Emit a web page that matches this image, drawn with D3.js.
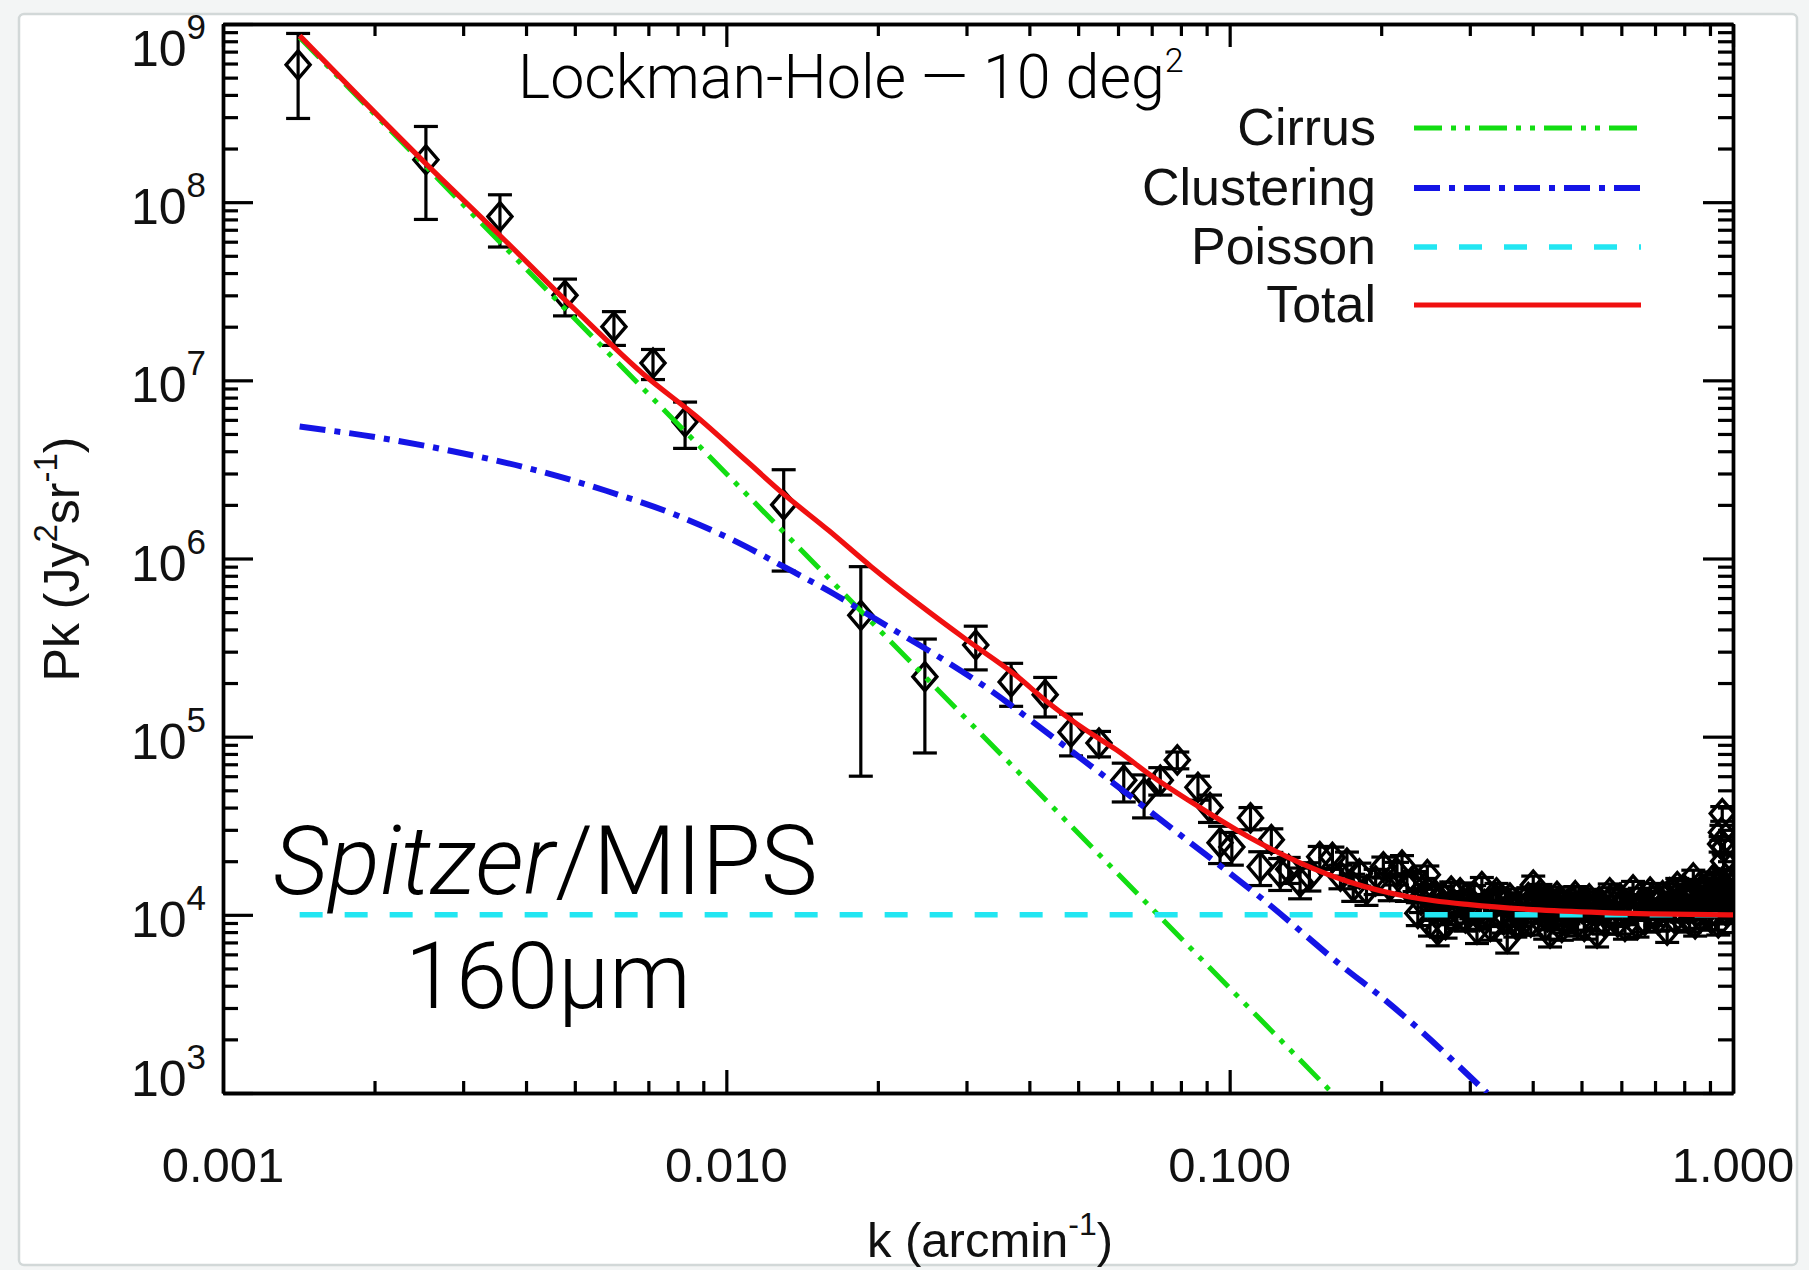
<!DOCTYPE html>
<html>
<head>
<meta charset="utf-8">
<script src="https://cdn.jsdelivr.net/npm/d3@7"></script>
<style>
  html, body { margin: 0; padding: 0; background: #f3f5f5; }
  svg { display: block; }
</style>
</head>
<body>
<svg id="chart" width="1809" height="1270"></svg>
<script>
// ---------------- measured power spectrum (k in arcmin^-1, Pk in Jy^2/sr) ----------------
const kData = [
  0.00141, 0.00253, 0.00355, 0.00478, 0.00598, 0.00715, 0.00828, 0.0130, 0.0185, 0.0248,
  0.0313, 0.0368, 0.0430, 0.0484, 0.0550, 0.0616, 0.0676, 0.0728, 0.0787, 0.0865,
  0.0914, 0.0957, 0.101, 0.110, 0.115, 0.121, 0.126, 0.138, 0.151, 0.160,
  0.171, 0.176, 0.187, 0.202, 0.215, 0.225,
  0.131, 0.144, 0.166, 0.181, 0.195, 0.208, 0.220,
  0.233, 0.240, 0.247, 0.253, 0.259, 0.265, 0.272, 0.279, 0.287, 0.294,
  0.302, 0.310, 0.317, 0.325, 0.334, 0.344, 0.350, 0.356, 0.365, 0.374,
  0.383, 0.392, 0.401, 0.410, 0.419, 0.428, 0.433, 0.442, 0.452, 0.462,
  0.471, 0.481, 0.491, 0.501, 0.512, 0.524, 0.537, 0.548, 0.560, 0.578,
  0.590, 0.603, 0.617, 0.633, 0.646, 0.660, 0.676, 0.693, 0.710, 0.725,
  0.740, 0.757, 0.775, 0.790, 0.805, 0.820, 0.834, 0.848, 0.861, 0.875,
  0.890, 0.900, 0.912, 0.925, 0.935, 0.945, 0.952, 0.958, 0.965, 0.972,
  0.980, 0.988, 0.995,
  0.2365, 0.2435, 0.250, 0.256, 0.262, 0.2685, 0.2755, 0.283, 0.2905, 0.298,
  0.306, 0.3135, 0.321, 0.3295, 0.339, 0.347, 0.353, 0.3605, 0.3695, 0.3785,
  0.3875, 0.3965, 0.4055, 0.4145, 0.4235, 0.4305, 0.4375, 0.447, 0.457, 0.4665,
  0.476, 0.486, 0.496, 0.5065, 0.518, 0.5305, 0.5425, 0.554, 0.569, 0.584,
  0.5965, 0.610, 0.625, 0.6395, 0.653, 0.668, 0.6845, 0.7015, 0.7175, 0.7325,
  0.7485, 0.766, 0.7825, 0.7975, 0.8125, 0.827, 0.841, 0.8545, 0.868, 0.8825,
  0.895, 0.906, 0.9185, 0.930, 0.940, 0.9485, 0.955, 0.9615, 0.9685, 0.976,
  0.984, 0.9915, 0.998
];
const pkData = [
  5.9e8, 1.73e8, 8.3e7, 3.0e7, 2.0e7, 1.25e7, 5.85e6, 2.0e6, 4.8e5, 2.17e5,
  3.27e5, 2.03e5, 1.72e5, 1.06e5, 9.2e4, 5.7e4, 4.8e4, 5.7e4, 7.4e4, 5.2e4,
  4.0e4, 2.54e4, 2.4e4, 3.5e4, 1.86e4, 2.64e4, 1.72e4, 1.53e4, 2.12e4, 2.1e4,
  1.95e4, 1.44e4, 1.38e4, 1.86e4, 1.72e4, 1.44e4,
  1.80e4, 1.66e4, 1.65e4, 1.70e4, 1.55e4, 1.45e4, 1.90e4,
  1.55e4, 1.21e4, 1.68e4, 1.10e4, 8.2e3, 1.26e4, 1.05e4, 1.15e4, 1.33e4, 9.6e3,
  1.12e4, 8.3e3, 1.44e4, 1.02e4, 1.18e4, 1.21e4, 9.4e3, 7.4e3, 1.08e4, 1.13e4,
  9.2e3, 1.25e4, 1.47e4, 1.06e4, 1.16e4, 9.75e3, 7.9e3, 1.10e4, 1.20e4, 9.3e3,
  1.04e4, 1.17e4, 9.0e3, 1.09e4, 1.14e4, 9.5e3, 7.9e3, 1.12e4, 1.05e4, 1.26e4,
  9.1e3, 1.18e4, 1.02e4, 1.38e4, 8.8e3, 1.15e4, 1.08e4, 1.21e4, 9.4e3, 1.28e4,
  8.2e3, 1.16e4, 1.44e4, 1.05e4, 1.31e4, 9.3e3, 1.61e4, 1.12e4, 9.7e3, 1.36e4,
  1.19e4, 1.45e4, 1.57e4, 1.03e4, 9.0e3, 2.5e4, 3.7e4, 2.0e4, 1.6e4, 1.40e4,
  1.22e4, 1.3e4, 1.1e4,
  1.02e4, 1.42e4, 9.0e3, 1.30e4, 1.12e4, 8.8e3, 1.36e4, 9.9e3, 1.19e4, 1.05e4,
  1.29e4, 9.8e3, 1.14e4, 8.6e3, 1.33e4, 1.03e4, 1.17e4, 1.24e4, 8.9e3, 1.01e4,
  1.11e4, 9.1e3, 1.23e4, 1.31e4, 8.7e3, 1.21e4, 1.02e4, 1.27e4, 8.5e3, 1.13e4,
  9.6e3, 1.28e4, 1.15e4, 8.6e3, 1.23e4, 1.07e4, 1.19e4, 9.2e3, 1.33e4, 1.00e4,
  1.24e4, 8.6e3, 1.14e4, 1.07e4, 1.26e4, 9.3e3, 1.34e4, 1.01e4, 1.19e4, 1.09e4,
  1.33e4, 9.5e3, 1.22e4, 1.40e4, 1.08e4, 1.26e4, 8.9e3, 1.42e4, 1.17e4, 1.03e4,
  1.29e4, 9.5e3, 1.38e4, 1.21e4, 1.50e4, 2.9e4, 1.2e4, 2.4e4, 1.05e4, 1.51e4,
  1.16e4, 1.42e4, 1.25e4
];
const pkErr = [
  2.95e8, 9.3e7, 2.7e7, 7.0e6, 4.3e6, 2.4e6, 1.7e6, 1.15e6, 4.2e5, 1.36e5,
  9.0e4, 5.5e4, 4.3e4, 2.8e4, 1.5e4, 1.4e4, 1.3e4, 1.0e4, 8e3, 8e3,
  7e3, 6e3, 5e3, 5e3, 4e3, 4e3, 3.5e3, 3e3, 3e3, 3e3,
  3e3, 2.5e3, 2.5e3, 2.5e3, 2.5e3, 2.5e3,
  3e3, 3e3, 2.5e3, 2.5e3, 2.5e3, 2.5e3, 2.5e3,
  2.0e3, 1.8e3, 2.0e3, 1.7e3, 1.5e3, 1.8e3, 1.7e3, 1.7e3, 1.8e3, 1.5e3,
  1.7e3, 1.4e3, 1.8e3, 1.6e3, 1.7e3, 1.7e3, 1.5e3, 1.3e3, 1.6e3, 1.6e3,
  1.5e3, 1.7e3, 1.8e3, 1.5e3, 1.6e3, 1.5e3, 1.3e3, 1.5e3, 1.6e3, 1.4e3,
  1.5e3, 1.6e3, 1.4e3, 1.5e3, 1.5e3, 1.4e3, 1.3e3, 1.5e3, 1.5e3, 1.6e3,
  1.3e3, 1.5e3, 1.4e3, 1.6e3, 1.3e3, 1.5e3, 1.4e3, 1.5e3, 1.3e3, 1.5e3,
  1.2e3, 1.5e3, 1.6e3, 1.4e3, 1.5e3, 1.3e3, 1.7e3, 1.4e3, 1.3e3, 1.6e3,
  1.5e3, 1.6e3, 1.7e3, 1.4e3, 1.3e3, 2.5e3, 3.5e3, 2.0e3, 1.7e3, 1.6e3,
  1.5e3, 1.5e3, 1.4e3,
  1.5e3, 1.8e3, 1.4e3, 1.7e3, 1.6e3, 1.4e3, 1.7e3, 1.5e3, 1.6e3, 1.5e3,
  1.7e3, 1.5e3, 1.6e3, 1.4e3, 1.7e3, 1.5e3, 1.6e3, 1.6e3, 1.4e3, 1.5e3,
  1.5e3, 1.4e3, 1.6e3, 1.7e3, 1.4e3, 1.6e3, 1.5e3, 1.6e3, 1.3e3, 1.5e3,
  1.4e3, 1.6e3, 1.5e3, 1.3e3, 1.6e3, 1.5e3, 1.5e3, 1.4e3, 1.6e3, 1.4e3,
  1.5e3, 1.3e3, 1.5e3, 1.4e3, 1.5e3, 1.3e3, 1.6e3, 1.4e3, 1.5e3, 1.4e3,
  1.6e3, 1.3e3, 1.5e3, 1.6e3, 1.4e3, 1.5e3, 1.3e3, 1.6e3, 1.5e3, 1.4e3,
  1.5e3, 1.3e3, 1.6e3, 1.5e3, 1.7e3, 2.8e3, 1.5e3, 2.4e3, 1.4e3, 1.7e3,
  1.5e3, 1.6e3, 1.5e3
];

// ---------------- model components ----------------
const cirrusK = [0.00142, 0.160];
const cirrusP = [8.4e8, 1.0e3];

const clusteringK = [0.00142, 0.00201, 0.00286, 0.00406, 0.00577, 0.00817, 0.0103, 0.0130,
  0.0164, 0.0208, 0.0262, 0.0331, 0.0440, 0.0807, 0.1186, 0.168, 0.2017, 0.3247];
const clusteringP = [5.5e6, 4.8e6, 4.0e6, 3.2e6, 2.4e6, 1.7e6, 1.27e6, 9.0e5,
  6.3e5, 4.2e5, 2.85e5, 1.86e5, 1.02e5, 2.74e4, 1.17e4, 5.1e3, 3.4e3, 1.0e3];

const poissonK = [0.00142, 1.0];
const poissonP = [1.0e4, 1.0e4];

const totalK = [0.00142, 0.0025, 0.00355, 0.005, 0.00693, 0.0087, 0.011, 0.013, 0.016, 0.0194,
  0.024, 0.030, 0.0373, 0.044, 0.052, 0.0597, 0.0695, 0.0873, 0.110, 0.138,
  0.173, 0.228, 0.30, 0.40, 0.55, 0.75, 1.0];
const totalP = [8.6e8, 1.7e8, 6.5e7, 2.5e7, 1.05e7, 6.3e6, 3.5e6, 2.3e6, 1.43e6, 9.0e5,
  5.6e5, 3.5e5, 2.25e5, 1.52e5, 1.08e5, 8.4e4, 6.1e4, 4.0e4, 2.7e4, 1.96e4,
  1.53e4, 1.26e4, 1.14e4, 1.07e4, 1.03e4, 1.01e4, 1.0e4];

// ---------------- axes ----------------
const xMajorTicks = [0.001, 0.01, 0.1, 1];
const xTickLabels = ["0.001", "0.010", "0.100", "1.000"];
const yExponents = [3, 4, 5, 6, 7, 8, 9];

const legendNames = ["Cirrus", "Clustering", "Poisson", "Total"];

// ---------------- layout ----------------
const plot = { left: 223, right: 1733, top: 24, bottom: 1093 };

const x = d3.scaleLog().domain([0.001, 1]).range([plot.left, plot.right]);
const y = d3.scaleLog().domain([1e3, 1e9]).range([plot.bottom, plot.top]);

const svg = d3.select("#chart");

// card background
svg.append("rect")
  .attr("x", 19).attr("y", 14).attr("width", 1778).attr("height", 1251)
  .attr("rx", 5)
  .attr("fill", "#ffffff")
  .attr("stroke", "#d2d8d8").attr("stroke-width", 2.5);

const helv = "'Liberation Sans', Arial, Helvetica, sans-serif";
const light = "Roboto, 'Open Sans', sans-serif";

// clip for curves and points
svg.append("defs").append("clipPath").attr("id", "plotClip")
  .append("rect")
  .attr("x", plot.left).attr("y", plot.top)
  .attr("width", plot.right - plot.left).attr("height", plot.bottom - plot.top);

// minor tick values for a log axis
function minorTicks(lo, hi) {
  const out = [];
  for (let e = lo; e < hi; e++) {
    for (let m = 2; m <= 9; m++) out.push(m * Math.pow(10, e));
  }
  return out;
}
const xMinor = minorTicks(-3, 0);
const yMinor = minorTicks(3, 9);
const yMajor = yExponents.map(e => Math.pow(10, e));

const axesG = svg.append("g").attr("class", "axes");

function styleAxis(g) {
  g.selectAll("path.domain").attr("stroke", "#000").attr("stroke-width", 3.4);
  g.selectAll(".tick line").attr("stroke", "#000").attr("stroke-width", 3.2);
  g.selectAll(".tick text").remove();
}

function addAxis(gen, tx, ty, values, len) {
  axesG.append("g").attr("transform", `translate(${tx},${ty})`)
    .call(gen.tickValues(values).tickSizeInner(-len).tickSizeOuter(0))
    .call(styleAxis);
}
addAxis(d3.axisBottom(x), 0, plot.bottom, xMinor, 12);
addAxis(d3.axisBottom(x), 0, plot.bottom, xMajorTicks, 23);
addAxis(d3.axisTop(x), 0, plot.top, xMinor, 12);
addAxis(d3.axisTop(x), 0, plot.top, xMajorTicks, 23);
addAxis(d3.axisLeft(y), plot.left, 0, yMinor, 15);
addAxis(d3.axisLeft(y), plot.left, 0, yMajor, 30);
addAxis(d3.axisRight(y), plot.right, 0, yMinor, 15);
addAxis(d3.axisRight(y), plot.right, 0, yMajor, 30);

// x tick labels
svg.append("g").selectAll("text")
  .data(xMajorTicks)
  .join("text")
  .attr("x", d => x(d))
  .attr("y", 1182)
  .attr("text-anchor", "middle")
  .attr("font-family", helv)
  .attr("font-size", 49)
  .attr("fill", "#111")
  .text((d, i) => xTickLabels[i]);

// y tick labels 10^n
const yLab = svg.append("g").selectAll("text")
  .data(yExponents)
  .join("text")
  .attr("x", 206)
  .attr("y", e => {
    const ty = y(Math.pow(10, e));
    if (e === 9) return ty + 42;
    if (e === 3) return ty + 3;
    return ty + 22;
  })
  .attr("text-anchor", "end")
  .attr("font-family", helv)
  .attr("font-size", 50)
  .attr("fill", "#111");
yLab.append("tspan").text("10");
yLab.append("tspan")
  .attr("font-size", 35)
  .attr("dy", -27)
  .text(e => e);

// axis titles
const yTitle = svg.append("text")
  .attr("transform", "translate(79,559) rotate(-90)")
  .attr("text-anchor", "middle")
  .attr("font-family", helv)
  .attr("font-size", 50)
  .attr("fill", "#111");
yTitle.append("tspan").text("Pk (Jy");
yTitle.append("tspan").attr("font-size", 33).attr("dy", -22).text("2");
yTitle.append("tspan").attr("dy", 22).text("sr");
yTitle.append("tspan").attr("font-size", 33).attr("dy", -22).text("-1");
yTitle.append("tspan").attr("dy", 22).text(")");

const xTitle = svg.append("text")
  .attr("x", 990)
  .attr("y", 1257)
  .attr("text-anchor", "middle")
  .attr("font-family", helv)
  .attr("font-size", 49)
  .attr("fill", "#111");
xTitle.append("tspan").text("k (arcmin");
xTitle.append("tspan").attr("font-size", 32).attr("dy", -22).text("-1");
xTitle.append("tspan").attr("dy", 22).text(")");

// ---------------- data points ----------------
const pts = kData.map((k, i) => ({ k, p: pkData[i], e: pkErr[i] }));
const ptsG = svg.append("g").attr("clip-path", "url(#plotClip)");

const errG = ptsG.append("g").attr("stroke", "#000").attr("stroke-width", 3.2).attr("fill", "none");
errG.selectAll("g.eb")
  .data(pts)
  .join("g")
  .attr("class", "eb")
  .each(function (d) {
    const g = d3.select(this);
    const cx = x(d.k);
    const lo = Math.max(d.p - d.e, 1);
    const yTop = y(d.p + d.e);
    const yBot = y(lo);
    g.append("line").attr("x1", cx).attr("x2", cx).attr("y1", yTop).attr("y2", yBot);
    g.append("line").attr("x1", cx - 12).attr("x2", cx + 12).attr("y1", yTop).attr("y2", yTop);
    g.append("line").attr("x1", cx - 12).attr("x2", cx + 12).attr("y1", yBot).attr("y2", yBot);
  });

ptsG.append("g").selectAll("path")
  .data(pts)
  .join("path")
  .attr("d", "M0,-14L12,0L0,14L-12,0Z")
  .attr("transform", d => `translate(${x(d.k)},${y(d.p)})`)
  .attr("fill", "none")
  .attr("stroke", "#000")
  .attr("stroke-width", 3.4);

// ---------------- model curves ----------------
const lineGen = d3.line()
  .x(d => x(d[0]))
  .y(d => y(d[1]))
  .curve(d3.curveMonotoneX);

const curves = [
  { k: cirrusK, p: cirrusP, color: "#12dd12", dash: "28,9,5,9,5,9", width: 5 },
  { k: clusteringK, p: clusteringP, color: "#1414e6", dash: "26,9,6,9", width: 6 },
  { k: poissonK, p: poissonP, color: "#22e6f2", dash: "23,22", width: 5.5 },
  { k: totalK, p: totalP, color: "#f01010", dash: null, width: 5.2 }
];

const curveG = svg.append("g").attr("clip-path", "url(#plotClip)");
curves.forEach(c => {
  curveG.append("path")
    .datum(c.k.map((k, i) => [k, c.p[i]]))
    .attr("d", lineGen)
    .attr("fill", "none")
    .attr("stroke", c.color)
    .attr("stroke-width", c.width)
    .attr("stroke-dasharray", c.dash);
});

// ---------------- legend ----------------
const legendY = [128, 188, 247, 305];
const legG = svg.append("g");
legendNames.forEach((name, i) => {
  legG.append("text")
    .attr("x", 1376)
    .attr("y", legendY[i] + 17)
    .attr("text-anchor", "end")
    .attr("font-family", helv)
    .attr("font-size", 52)
    .attr("fill", "#111")
    .text(name);
  legG.append("line")
    .attr("x1", 1414).attr("x2", 1641)
    .attr("y1", legendY[i]).attr("y2", legendY[i])
    .attr("stroke", curves[i].color)
    .attr("stroke-width", curves[i].width)
    .attr("stroke-dasharray", curves[i].dash);
});

// ---------------- annotations ----------------
const title = svg.append("text")
  .attr("x", 518)
  .attr("y", 98)
  .attr("font-family", light)
  .attr("font-weight", 300)
  .attr("font-size", 61)
  .attr("fill", "#000");
title.append("tspan").text("Lockman-Hole \u2014 10 deg");
title.append("tspan").attr("font-size", 34).attr("dy", -26).text("2");

const inst = svg.append("text")
  .attr("x", 273)
  .attr("y", 894)
  .attr("font-family", light)
  .attr("font-weight", 300)
  .attr("font-size", 96)
  .attr("fill", "#000");
inst.append("tspan").attr("font-style", "italic").text("Spitzer");
inst.append("tspan").text("/MIPS");

svg.append("text")
  .attr("x", 405)
  .attr("y", 1008)
  .attr("font-family", light)
  .attr("font-weight", 300)
  .attr("font-size", 92)
  .attr("fill", "#000")
  .text("160\u00b5m");
</script>
</body>
</html>
